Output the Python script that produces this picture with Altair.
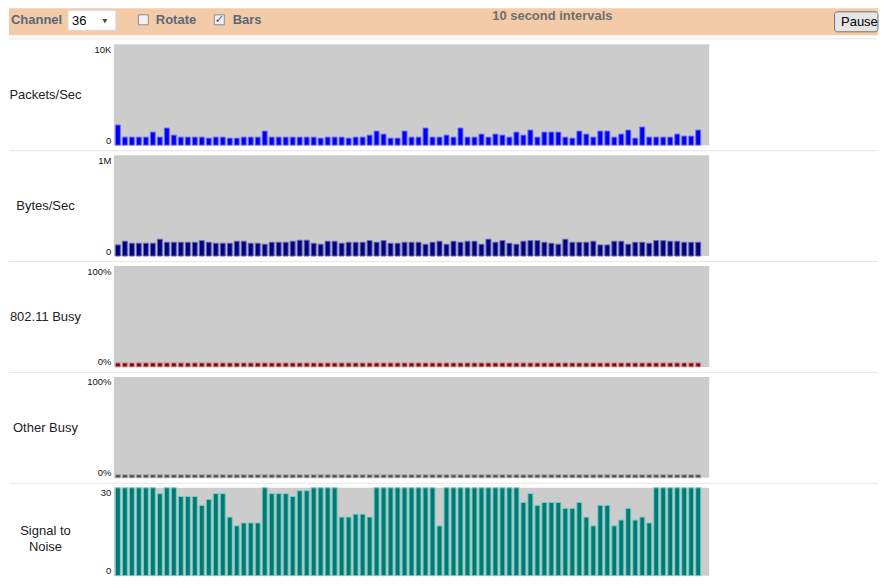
import altair as alt
import pandas as pd

# ---------------- data ----------------
slots = list(range(1, 86))        # 85 ten-second slots on the x axis
intervals = list(range(1, 85))    # 84 filled slots

packets_per_sec = [
    2000, 800, 800, 800, 800, 1300, 800, 1700, 1000, 800,
    800, 800, 800, 700, 800, 800, 700, 700, 800, 800,
    800, 1400, 800, 800, 800, 800, 800, 800, 800, 700,
    800, 800, 800, 700, 800, 800, 1000, 1400, 1100, 700,
    700, 1400, 800, 800, 1700, 800, 800, 1000, 800, 1700,
    800, 800, 1100, 800, 1100, 1000, 800, 1300, 1000, 1500,
    800, 1300, 1300, 1300, 800, 700, 1400, 1100, 800, 1400,
    1400, 800, 1100, 1500, 700, 1800, 800, 800, 800, 800,
    1100, 900, 900, 1500,
]

bytes_per_sec = [
    110000, 147000, 127000, 127000, 127000, 127000, 167000, 137000, 137000, 137000,
    137000, 137000, 153000, 137000, 127000, 127000, 127000, 147000, 147000, 127000,
    127000, 117000, 137000, 137000, 137000, 147000, 157000, 157000, 127000, 117000,
    147000, 147000, 127000, 137000, 137000, 137000, 153000, 137000, 153000, 127000,
    127000, 137000, 137000, 137000, 117000, 137000, 147000, 117000, 147000, 137000,
    147000, 147000, 117000, 167000, 137000, 153000, 127000, 117000, 147000, 153000,
    153000, 137000, 127000, 117000, 167000, 137000, 137000, 137000, 147000, 110000,
    110000, 147000, 147000, 117000, 137000, 137000, 127000, 153000, 153000, 147000,
    147000, 137000, 137000, 137000,
]

busy_80211 = [
    4, 4, 4, 4, 4, 4, 4, 4, 4, 4, 4, 4,
    4, 4, 4, 4, 4, 4, 4, 4, 4, 4, 4, 4,
    4, 4, 4, 4, 4, 4, 4, 4, 4, 4, 4, 4,
    4, 4, 4, 4, 4, 4, 4, 4, 4, 4, 4, 4,
    4, 4, 4, 4, 4, 4, 4, 4, 4, 4, 4, 4,
    4, 4, 4, 4, 4, 4, 4, 4, 4, 4, 4, 4,
    4, 4, 4, 4, 4, 4, 4, 4, 4, 4, 4, 4,
]

other_busy = [
    3, 3, 3, 3, 3, 3, 3, 3, 3, 3, 3, 3,
    3, 3, 3, 3, 3, 3, 3, 3, 3, 3, 3, 3,
    3, 3, 3, 3, 3, 3, 3, 3, 3, 3, 3, 3,
    3, 3, 3, 3, 3, 3, 3, 3, 3, 3, 3, 3,
    3, 3, 3, 3, 3, 3, 3, 3, 3, 3, 3, 3,
    3, 3, 3, 3, 3, 3, 3, 3, 3, 3, 3, 3,
    3, 3, 3, 3, 3, 3, 3, 3, 3, 3, 3, 3,
]

signal_to_noise = [
    30, 30, 30, 30, 30, 30, 28, 30, 30, 27,
    27, 27, 24, 26, 28, 28, 20, 17, 18, 18,
    18, 30, 28, 28, 28, 27, 29, 29, 30, 30,
    30, 30, 20, 20, 21, 21, 20, 30, 30, 30,
    30, 30, 30, 30, 30, 30, 17, 30, 30, 30,
    30, 30, 30, 30, 30, 30, 30, 30, 25, 28,
    24, 25, 25, 25, 23, 23, 25, 20, 17, 24,
    24, 17, 19, 23, 19, 20, 18, 30, 30, 30,
    30, 30, 30, 30,
]

panel_titles = [["Packets/Sec"], ["Bytes/Sec"], ["802.11 Busy"], ["Other Busy"], ["Signal to", "Noise"]]
y_max = [10000, 1000000, 100, 100, 30]
top_labels = ["10K", "1M", "100%", "100%", "30"]
bottom_labels = ["0", "0", "0%", "0%", "0"]
series = [packets_per_sec, bytes_per_sec, busy_80211, other_busy, signal_to_noise]
fills = ["#0000f2", "#000080", "#7a0c0c", "#4a4a4a", "#007a74"]
edges = ["#7070ff", "#6a6ab8", "#d69494", "#a8a8a8", "#78ccc4"]

# ---------------- layout ----------------
W, H = 596, 101
H_LAST = 88
RIGHT = 765
FONT = "Liberation Sans"
one = pd.DataFrame({"k": [0]})


def ui_text(text, x, y, size=13, weight="normal", color="#000000", align="left", font=FONT):
    return alt.Chart(one).mark_text(
        text=text, align=align, baseline="middle", fontSize=size,
        fontWeight=weight, color=color, font=font
    ).encode(x=alt.value(x), y=alt.value(y))


def ui_rect(x, x2, y, y2, fill, stroke=None, radius=0):
    kw = dict(fill=fill)
    if stroke:
        kw.update(stroke=stroke, strokeWidth=1)
    if radius:
        kw.update(cornerRadius=radius)
    return alt.Chart(one).mark_rect(**kw).encode(
        x=alt.value(x), x2=alt.value(x2), y=alt.value(y), y2=alt.value(y2))


def ui_rule(x, x2, y, color):
    return alt.Chart(one).mark_rule(color=color, strokeWidth=1).encode(
        x=alt.value(x), x2=alt.value(x2), y=alt.value(y))


SLATE = "#5a6878"
toolbar = alt.layer(
    ui_rect(-105, RIGHT, 0, 27, "#f3cba8"),
    ui_rule(-105, RIGHT, 30.5, "#e8e8e8"),
    ui_text("Channel", -103, 12, weight="bold", color=SLATE),
    ui_rect(-46, 2, 2, 22, "#ffffff", stroke="#d8d8d8"),
    ui_text("36", -42, 12.5, size=13),
    alt.Chart(one).mark_point(shape="triangle-down", filled=True, color="#000000", size=26).encode(
        x=alt.value(-9), y=alt.value(13)),
    ui_rect(24.5, 34.5, 6.5, 16.5, "#f2f2f2", stroke="#8c8c8c"),
    ui_text("Rotate", 42, 12, weight="bold", color=SLATE),
    ui_rect(100.5, 110.5, 6.5, 16.5, "#f2f2f2", stroke="#8c8c8c"),
    ui_text("\u2713", 105.5, 11.5, size=11, color="#3a4a8a", align="center", font="DejaVu Sans"),
    ui_text("Bars", 119, 12, weight="bold", color=SLATE),
    ui_text("10 second intervals", 439, 8, weight="bold", color="#6f6f6f", align="center"),
    ui_rect(721.5, RIGHT, 3.5, 23.5, "#e6e6e6", stroke="#707070", radius=3),
    ui_text("Pause", 728, 13.5, size=13),
).properties(width=W, height=26)


def panel(values, title, ymax, top_lbl, bot_lbl, fill, edge, last=False):
    h = H_LAST if last else H
    title_y = H / 2 - 8 * (len(title) - 1)
    df = pd.DataFrame({"interval": intervals, "value": values})
    label_expr = f"datum.value == 0 ? '{bot_lbl}' : '{top_lbl}'"
    bars = alt.Chart(df).mark_bar(fill=fill, stroke=edge, strokeWidth=1).encode(
        x=alt.X("interval:O",
                scale=alt.Scale(domain=slots, paddingInner=0.286, paddingOuter=0.213),
                axis=None),
        y=alt.Y("value:Q",
                scale=alt.Scale(domain=[0, ymax], nice=False, zero=True),
                axis=alt.Axis(
                    values=[0, ymax], labelExpr=label_expr, ticks=False, domain=False,
                    grid=False, labelFlush=True, labelPadding=3, labelFontSize=9.5,
                    labelColor="#111111", labelFont=FONT,
                    title=title, titleAngle=0, titleX=-69, titleY=title_y,
                    titleAlign="center", titleBaseline="middle", titleFontSize=13,
                    titleFontWeight="normal", titleFont=FONT, titleColor="#222222",
                    titleLineHeight=16)),
    )
    layers = [bars]
    if not last:
        layers.append(ui_rule(-105, RIGHT, H + 5.5, "#e6e6e6"))
    return alt.layer(*layers).properties(
        width=W, height=h, view=alt.ViewBackground(fill="#cccccc", stroke=None))


panels = [
    panel(series[i], panel_titles[i], y_max[i], top_labels[i], bottom_labels[i],
          fills[i], edges[i], last=(i == 4))
    for i in range(5)
]

chart = alt.vconcat(toolbar, *panels, spacing=10, bounds="flush").properties(
    padding={"left": 0, "top": 0, "right": 0, "bottom": 0}
).configure(font=FONT).configure_view(stroke=None)

chart.save("out.html", embed_options={"renderer": "svg", "actions": False})
